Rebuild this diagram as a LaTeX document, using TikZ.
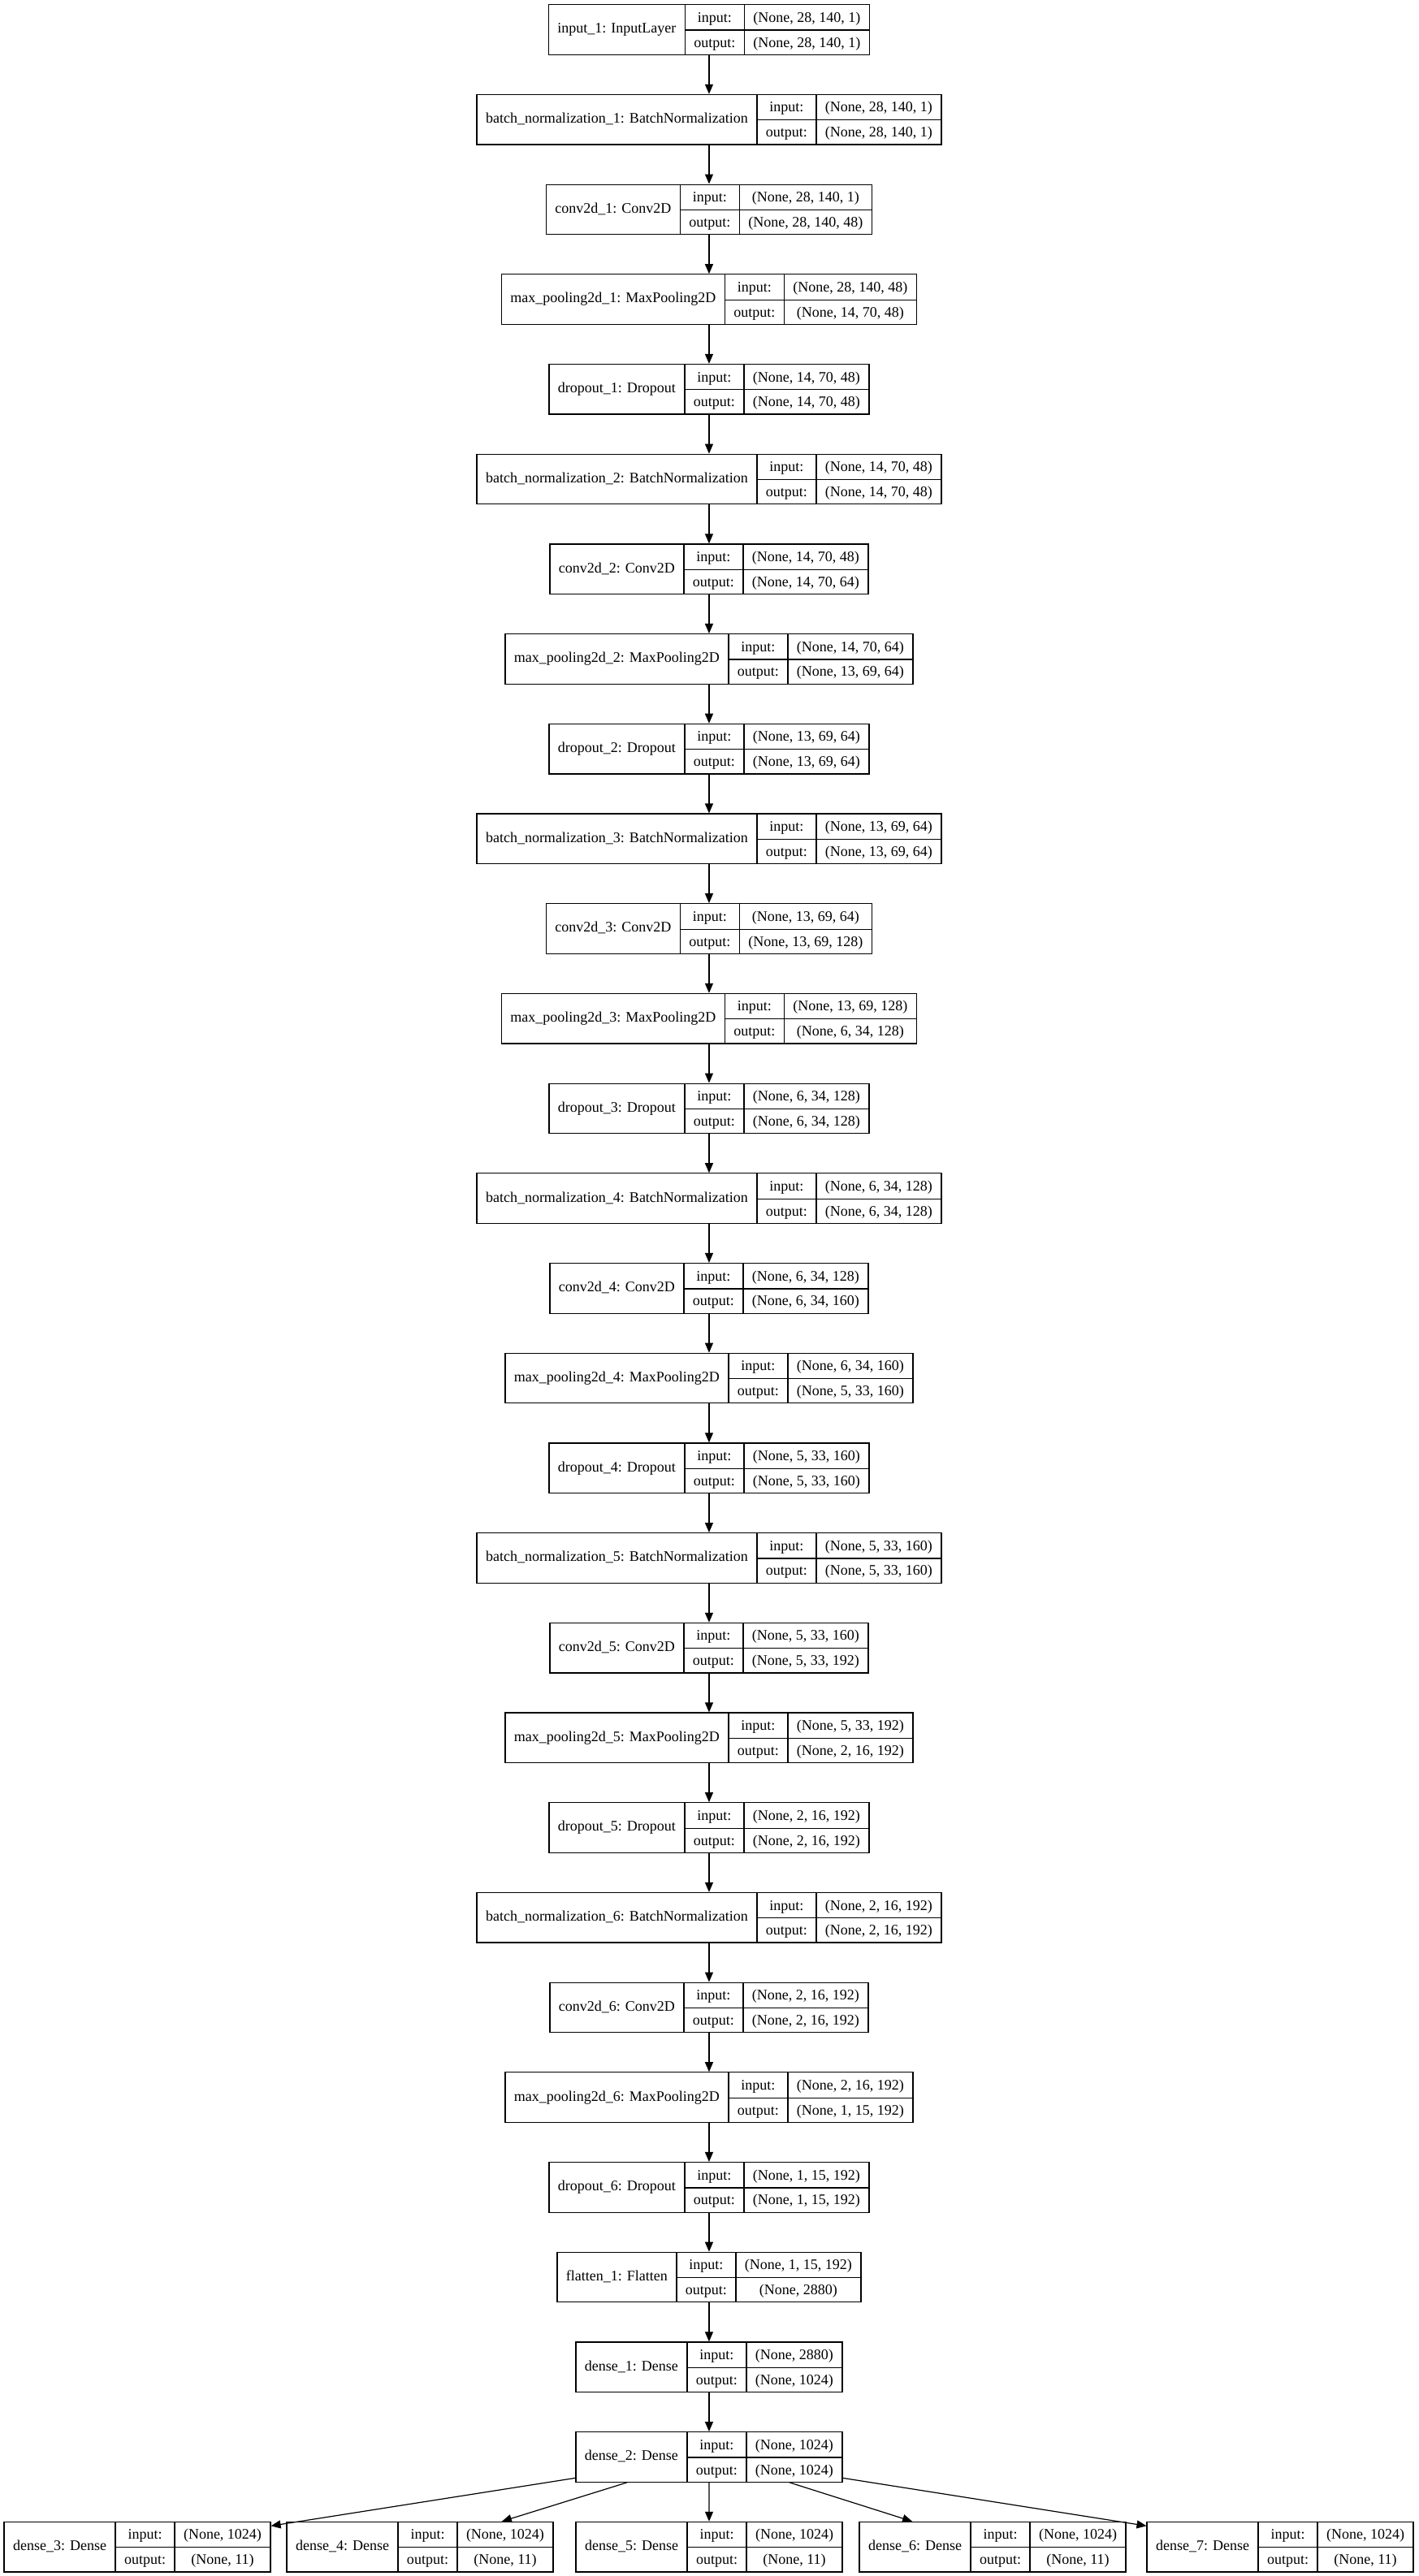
\documentclass[tikz,border=0pt]{standalone}
\usepackage{fontspec}
\setmainfont{Liberation Serif}
\usepackage{multirow}
\usetikzlibrary{arrows.meta}

\renewcommand{\arraystretch}{1.4}
\setlength{\tabcolsep}{5.5pt}
\setlength{\arrayrulewidth}{0.6pt}
% record: name | input/output | shapes
\newcommand{\layerrec}[3]{%
  \begin{tabular}{c|c|c}
    \multirow{2}{*}{#1} & input: & #2 \\ \cline{2-3}
    & output: & #3
  \end{tabular}}

\begin{document}
\begin{tikzpicture}[
    layer/.style={draw, rectangle, inner sep=0pt, line width=0.6pt,
                  font=\fontsize{9}{11}\selectfont},
    edge/.style={-{Triangle[length=6pt,width=5pt]}, line width=0.6pt}
]
\useasboundingbox (0,0) rectangle (30.69,-55.74);

% Intrare
\node[layer] (in1) at (15.34,-0.641) {\layerrec{input\_1: InputLayer}{(None, 28, 140, 1)}{(None, 28, 140, 1)}};

% Bloc 1
\node[layer] (bn1) at (15.34,-2.586) {\layerrec{batch\_normalization\_1: BatchNormalization}{(None, 28, 140, 1)}{(None, 28, 140, 1)}};
\node[layer] (cv1) at (15.34,-4.532) {\layerrec{conv2d\_1: Conv2D}{(None, 28, 140, 1)}{(None, 28, 140, 48)}};
\node[layer] (mp1) at (15.34,-6.477) {\layerrec{max\_pooling2d\_1: MaxPooling2D}{(None, 28, 140, 48)}{(None, 14, 70, 48)}};
\node[layer] (do1) at (15.34,-8.422) {\layerrec{dropout\_1: Dropout}{(None, 14, 70, 48)}{(None, 14, 70, 48)}};

% Bloc 2
\node[layer] (bn2) at (15.34,-10.368) {\layerrec{batch\_normalization\_2: BatchNormalization}{(None, 14, 70, 48)}{(None, 14, 70, 48)}};
\node[layer] (cv2) at (15.34,-12.313) {\layerrec{conv2d\_2: Conv2D}{(None, 14, 70, 48)}{(None, 14, 70, 64)}};
\node[layer] (mp2) at (15.34,-14.258) {\layerrec{max\_pooling2d\_2: MaxPooling2D}{(None, 14, 70, 64)}{(None, 13, 69, 64)}};
\node[layer] (do2) at (15.34,-16.204) {\layerrec{dropout\_2: Dropout}{(None, 13, 69, 64)}{(None, 13, 69, 64)}};

% Bloc 3
\node[layer] (bn3) at (15.34,-18.149) {\layerrec{batch\_normalization\_3: BatchNormalization}{(None, 13, 69, 64)}{(None, 13, 69, 64)}};
\node[layer] (cv3) at (15.34,-20.094) {\layerrec{conv2d\_3: Conv2D}{(None, 13, 69, 64)}{(None, 13, 69, 128)}};
\node[layer] (mp3) at (15.34,-22.039) {\layerrec{max\_pooling2d\_3: MaxPooling2D}{(None, 13, 69, 128)}{(None, 6, 34, 128)}};
\node[layer] (do3) at (15.34,-23.985) {\layerrec{dropout\_3: Dropout}{(None, 6, 34, 128)}{(None, 6, 34, 128)}};

% Bloc 4
\node[layer] (bn4) at (15.34,-25.930) {\layerrec{batch\_normalization\_4: BatchNormalization}{(None, 6, 34, 128)}{(None, 6, 34, 128)}};
\node[layer] (cv4) at (15.34,-27.875) {\layerrec{conv2d\_4: Conv2D}{(None, 6, 34, 128)}{(None, 6, 34, 160)}};
\node[layer] (mp4) at (15.34,-29.821) {\layerrec{max\_pooling2d\_4: MaxPooling2D}{(None, 6, 34, 160)}{(None, 5, 33, 160)}};
\node[layer] (do4) at (15.34,-31.766) {\layerrec{dropout\_4: Dropout}{(None, 5, 33, 160)}{(None, 5, 33, 160)}};

% Bloc 5
\node[layer] (bn5) at (15.34,-33.711) {\layerrec{batch\_normalization\_5: BatchNormalization}{(None, 5, 33, 160)}{(None, 5, 33, 160)}};
\node[layer] (cv5) at (15.34,-35.657) {\layerrec{conv2d\_5: Conv2D}{(None, 5, 33, 160)}{(None, 5, 33, 192)}};
\node[layer] (mp5) at (15.34,-37.602) {\layerrec{max\_pooling2d\_5: MaxPooling2D}{(None, 5, 33, 192)}{(None, 2, 16, 192)}};
\node[layer] (do5) at (15.34,-39.547) {\layerrec{dropout\_5: Dropout}{(None, 2, 16, 192)}{(None, 2, 16, 192)}};

% Bloc 6
\node[layer] (bn6) at (15.34,-41.493) {\layerrec{batch\_normalization\_6: BatchNormalization}{(None, 2, 16, 192)}{(None, 2, 16, 192)}};
\node[layer] (cv6) at (15.34,-43.438) {\layerrec{conv2d\_6: Conv2D}{(None, 2, 16, 192)}{(None, 2, 16, 192)}};
\node[layer] (mp6) at (15.34,-45.383) {\layerrec{max\_pooling2d\_6: MaxPooling2D}{(None, 2, 16, 192)}{(None, 1, 15, 192)}};
\node[layer] (do6) at (15.34,-47.329) {\layerrec{dropout\_6: Dropout}{(None, 1, 15, 192)}{(None, 1, 15, 192)}};

% Clasificator
\node[layer] (fl1) at (15.34,-49.274) {\layerrec{flatten\_1: Flatten}{(None, 1, 15, 192)}{(None, 2880)}};
\node[layer] (d1)  at (15.34,-51.219) {\layerrec{dense\_1: Dense}{(None, 2880)}{(None, 1024)}};
\node[layer] (d2)  at (15.34,-53.164) {\layerrec{dense\_2: Dense}{(None, 1024)}{(None, 1024)}};

% Iesiri
\node[layer] (d3) at (2.970,-55.110)  {\layerrec{dense\_3: Dense}{(None, 1024)}{(None, 11)}};
\node[layer] (d4) at (9.085,-55.110)  {\layerrec{dense\_4: Dense}{(None, 1024)}{(None, 11)}};
\node[layer] (d5) at (15.341,-55.110) {\layerrec{dense\_5: Dense}{(None, 1024)}{(None, 11)}};
\node[layer] (d6) at (21.474,-55.110) {\layerrec{dense\_6: Dense}{(None, 1024)}{(None, 11)}};
\node[layer] (d7) at (27.695,-55.110) {\layerrec{dense\_7: Dense}{(None, 1024)}{(None, 11)}};

% Legaturi
\foreach \a/\b in {in1/bn1, bn1/cv1, cv1/mp1, mp1/do1, do1/bn2, bn2/cv2, cv2/mp2,
                   mp2/do2, do2/bn3, bn3/cv3, cv3/mp3, mp3/do3, do3/bn4, bn4/cv4,
                   cv4/mp4, mp4/do4, do4/bn5, bn5/cv5, cv5/mp5, mp5/do5, do5/bn6,
                   bn6/cv6, cv6/mp6, mp6/do6, do6/fl1, fl1/d1, d1/d2} {
    \draw[edge] (\a) -- (\b);
}
\foreach \d in {d3, d4, d5, d6, d7} {
    \draw[edge] (d2) -- (\d);
}

\end{tikzpicture}
\end{document}
